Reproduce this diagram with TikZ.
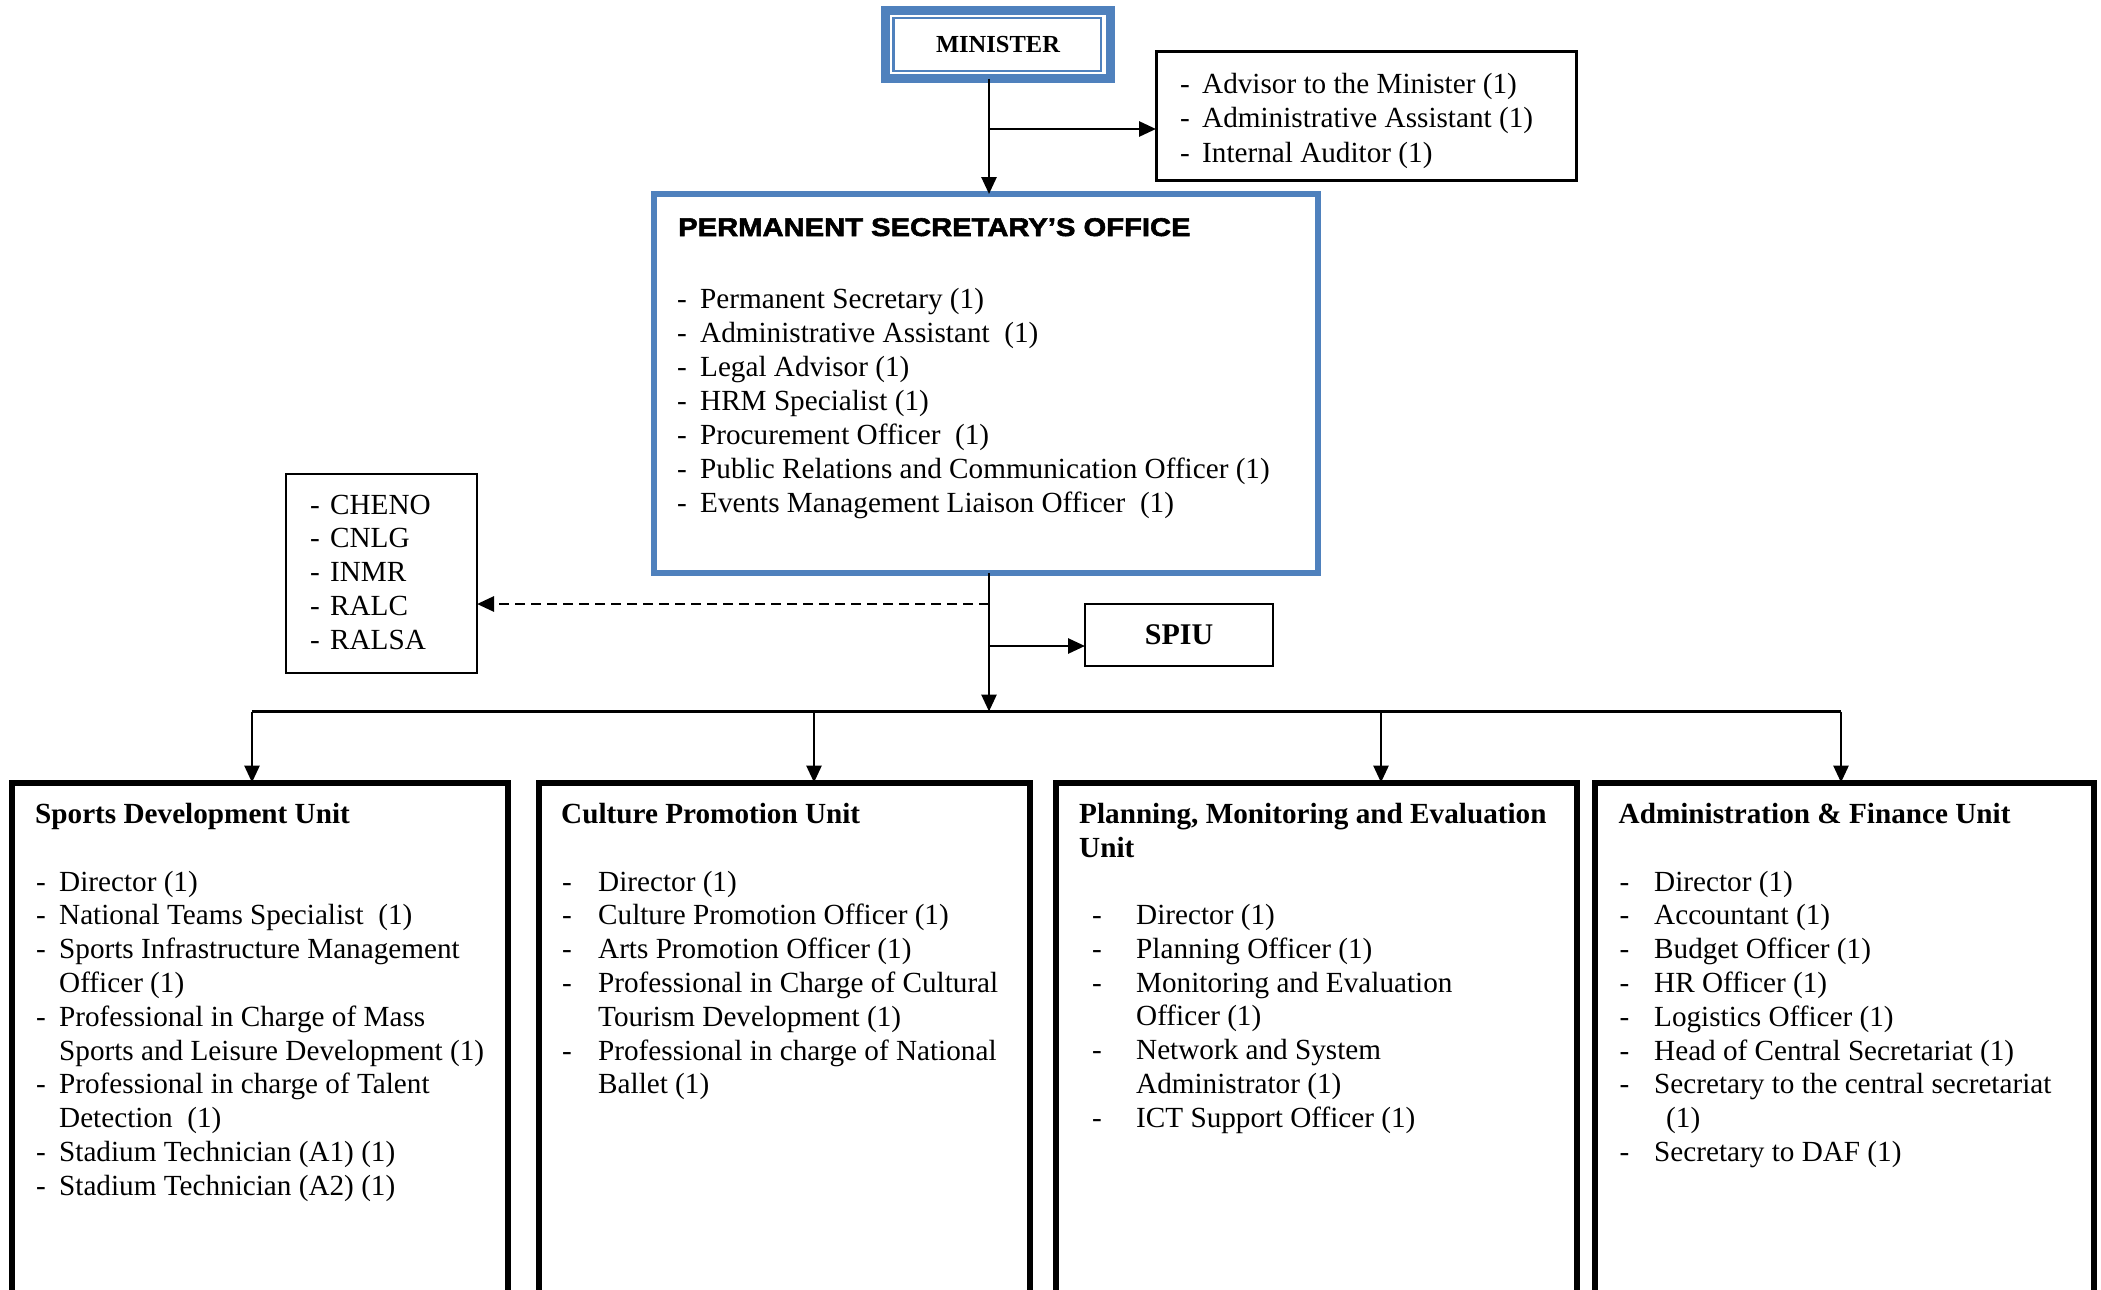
\documentclass[tikz,border=0pt]{standalone}
\usepackage{fontspec}
\setmainfont{Liberation Serif}
\newfontfamily\headsans{Liberation Sans}[FakeStretch=1.14,FakeBold=2.2]
\usetikzlibrary{arrows.meta}
\definecolor{officeblue}{HTML}{4F81BD}

\newlength\orggap
\newcommand\orgitem[1]{\makebox[\orggap][l]{-}#1}
\newcommand\orgcont[1]{\hspace*{\orggap}#1}
\newcommand\bodyfont{\fontsize{29.2}{33.8}\selectfont}

\tikzset{
  conn/.style={line width=2.8pt},
  arr/.style={-{Triangle[length=17pt,width=15pt]}},
  busline/.style={line width=3.6pt},
  dashconn/.style={line width=2.8pt, dash pattern=on 10pt off 6pt},
  plainbox/.style={draw, outer sep=0pt, inner sep=0pt, line width=2.6pt},
  unitbox/.style={draw, outer sep=0pt, inner sep=0pt, line width=6pt, anchor=north west, minimum height=700},
  psbox/.style={draw=officeblue, outer sep=0pt, inner sep=0pt, line width=6pt},
  listtxt/.style={inner sep=0pt, anchor=base west, font=\bodyfont},
  ttl/.style={inner sep=0pt, anchor=base west, font=\bfseries\bodyfont},
}

\begin{document}
\begin{tikzpicture}[x=1pt,y=-1pt]
\useasboundingbox (0,0) rectangle (2101,1290);
\clip (0,0) rectangle (2101,1290);
\fill[white] (0,0) rectangle (2101,1290);

% ---------- top level ----------
\node[draw=officeblue, line width=9pt, outer sep=0pt, minimum width=225, minimum height=67.5,
      font=\bfseries\fontsize{24.5}{29}\selectfont] (min) at (998,44.75) {MINISTER};
\draw[officeblue, line width=2.5pt] ([shift={(8,7)}]min.north west) rectangle ([shift={(-9.5,-7.5)}]min.south east);

\node[plainbox, line width=3pt, minimum width=420, minimum height=128] (adv) at (1366,116) {};
\node[listtxt, font=\fontsize{29.2}{34.6}\selectfont] (advlist) at (1180,93)
  {\setlength\orggap{22pt}\begin{tabular}[t]{@{}l@{}}
   \orgitem{Advisor to the Minister (1)}\\
   \orgitem{Administrative Assistant (1)}\\
   \orgitem{Internal Auditor (1)}
   \end{tabular}};

% ---------- permanent secretary's office ----------
\node[psbox, minimum width=663.5, minimum height=379] (ps) at (986,383.5) {};
\node[inner sep=0pt, anchor=base west, font=\headsans\bfseries\fontsize{25.6}{30}\selectfont]
  (pstitle) at (678,236) {PERMANENT SECRETARY’S OFFICE};
\node[listtxt, font=\fontsize{29.2}{34}\selectfont] (pslist) at (677,308.5)
  {\setlength\orggap{23pt}\begin{tabular}[t]{@{}l@{}}
   \orgitem{Permanent Secretary (1)}\\
   \orgitem{Administrative Assistant~ (1)}\\
   \orgitem{Legal Advisor (1)}\\
   \orgitem{HRM Specialist (1)}\\
   \orgitem{Procurement Officer~ (1)}\\
   \orgitem{Public Relations and Communication Officer (1)}\\
   \orgitem{Events Management Liaison Officer~ (1)}
   \end{tabular}};

% ---------- affiliated institutions and SPIU ----------
\node[plainbox, minimum width=191, minimum height=199] (inst) at (381.5,573.5) {};
\node[listtxt, font=\fontsize{29.2}{33.8}\selectfont] (instlist) at (310,514)
  {\setlength\orggap{20pt}\begin{tabular}[t]{@{}l@{}}
   \orgitem{CHENO}\\ \orgitem{CNLG}\\ \orgitem{INMR}\\ \orgitem{RALC}\\ \orgitem{RALSA}
   \end{tabular}};

\node[plainbox, minimum width=188, minimum height=62, font=\bfseries\fontsize{30}{34}\selectfont] (spiu) at (1179,635) {SPIU};

% ---------- units ----------
\node[unitbox, minimum width=496]   (u1) at (11.5,782.5) {};
\node[unitbox, minimum width=491.5] (u2) at (538.5,782.5) {};
\node[unitbox, minimum width=520.5] (u3) at (1056,782.5) {};
\node[unitbox, minimum width=498.5] (u4) at (1595,782.5) {};

\node[ttl] (t1) at (35,823.5) {Sports Development Unit};
\node[listtxt] (l1) at (36,891)
  {\setlength\orggap{23pt}\begin{tabular}[t]{@{}l@{}}
   \orgitem{Director (1)}\\
   \orgitem{National Teams Specialist~ (1)}\\
   \orgitem{Sports Infrastructure Management}\\
   \orgcont{Officer (1)}\\
   \orgitem{Professional in Charge of Mass}\\
   \orgcont{Sports and Leisure Development (1)}\\
   \orgitem{Professional in charge of Talent}\\
   \orgcont{Detection~ (1)}\\
   \orgitem{Stadium Technician (A1) (1)}\\
   \orgitem{Stadium Technician (A2) (1)}
   \end{tabular}};

\node[ttl] (t2) at (561,823.5) {Culture Promotion Unit};
\node[listtxt] (l2) at (562,891)
  {\setlength\orggap{36pt}\begin{tabular}[t]{@{}l@{}}
   \orgitem{Director (1)}\\
   \orgitem{Culture Promotion Officer (1)}\\
   \orgitem{Arts Promotion Officer (1)}\\
   \orgitem{Professional in Charge of Cultural}\\
   \orgcont{Tourism Development (1)}\\
   \orgitem{Professional in charge of National}\\
   \orgcont{Ballet (1)}
   \end{tabular}};

\node[ttl] (t3) at (1079,823.5)
  {\begin{tabular}[t]{@{}l@{}}Planning, Monitoring and Evaluation\\Unit\end{tabular}};
\node[listtxt] (l3) at (1092,924.5)
  {\setlength\orggap{44pt}\begin{tabular}[t]{@{}l@{}}
   \orgitem{Director (1)}\\
   \orgitem{Planning Officer (1)}\\
   \orgitem{Monitoring and Evaluation}\\
   \orgcont{Officer (1)}\\
   \orgitem{Network and System}\\
   \orgcont{Administrator (1)}\\
   \orgitem{ICT Support Officer (1)}
   \end{tabular}};

\node[ttl] (t4) at (1618.5,823.5) {Administration \& Finance Unit};
\node[listtxt] (l4) at (1619.5,891)
  {\setlength\orggap{34.5pt}\begin{tabular}[t]{@{}l@{}}
   \orgitem{Director (1)}\\
   \orgitem{Accountant (1)}\\
   \orgitem{Budget Officer (1)}\\
   \orgitem{HR Officer (1)}\\
   \orgitem{Logistics Officer (1)}\\
   \orgitem{Head of Central Secretariat (1)}\\
   \orgitem{Secretary to the central secretariat}\\
   \hspace*{46.5pt}(1)\\
   \orgitem{Secretary to DAF (1)}
   \end{tabular}};

% ---------- connectors ----------
\coordinate (j1) at (989,129);
\coordinate (j2) at (989,604);
\coordinate (j3) at (989,646);
\coordinate (hub) at (989,711.5);
\coordinate (d1) at (252,711.5);
\coordinate (d2) at (814,711.5);
\coordinate (d3) at (1381,711.5);
\coordinate (d4) at (1841,711.5);

\draw[conn,arr] (j1 |- min.south) -- (j1 |- ps.north);
\draw[conn,arr] (j1) -- (j1 -| adv.west);
\draw[conn,arr] (hub |- ps.south) -- (hub);
\draw[dashconn,arr] (j2) -- (j2 -| inst.east);
\draw[conn,arr] (j3) -- (j3 -| spiu.west);

\draw[busline] (d1) -- (d4);
\draw[conn,arr] (d1) -- (d1 |- u1.north);
\draw[conn,arr] (d2) -- (d2 |- u2.north);
\draw[conn,arr] (d3) -- (d3 |- u3.north);
\draw[conn,arr] (d4) -- (d4 |- u4.north);
\end{tikzpicture}
\end{document}
